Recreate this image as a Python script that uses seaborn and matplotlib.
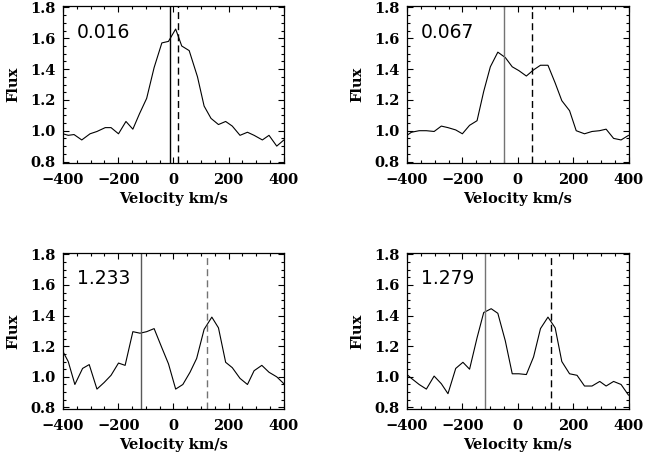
import numpy as np
import pandas as pd
import matplotlib
matplotlib.use("Agg")
import matplotlib.pyplot as plt
import seaborn as sns
from matplotlib.ticker import MultipleLocator

# ---- data ----
phases = ["0.016", "0.067", "1.233", "1.279"]

vel_1 = [-420, -400, -381, -360, -332, -302, -277, -247, -226, -199, -172, -147, -123, -97, -70, -42,
         -18, 8, 30, 57, 87, 111, 136, 163, 189, 213, 241, 268, 292, 322, 346, 374, 400]
flux_1 = [0.99, 0.98, 0.97, 0.975, 0.94, 0.98, 0.995, 1.02, 1.02, 0.98, 1.06, 1.01, 1.11, 1.21, 1.41, 1.57,
          1.58, 1.66, 1.55, 1.52, 1.35, 1.16, 1.08, 1.04, 1.06, 1.03, 0.97, 0.99, 0.97, 0.94, 0.97, 0.90, 0.94]

vel_2 = [-400, -384, -356, -330, -302, -276, -252, -224, -200, -174, -147, -123, -99, -72, -45, -20,
         4, 31, 57, 82, 109, 135, 159, 187, 211, 241, 268, 295, 319, 346, 373, 400]
flux_2 = [0.97, 0.99, 1.0, 1.0, 0.995, 1.03, 1.02, 1.005, 0.98, 1.035, 1.065, 1.255, 1.415, 1.51, 1.475, 1.415,
          1.39, 1.355, 1.395, 1.425, 1.425, 1.31, 1.195, 1.13, 1.0, 0.98, 0.995, 1.0, 1.01, 0.95, 0.94, 0.97]

vel_3 = [-400, -381, -357, -329, -305, -277, -251, -226, -199, -175, -147, -121, -97, -70, -42, -18,
         8, 34, 60, 84, 111, 139, 163, 189, 213, 241, 268, 292, 320, 346, 374, 400]
flux_3 = [1.165, 1.10, 0.95, 1.055, 1.08, 0.92, 0.963, 1.01, 1.09, 1.075, 1.295, 1.285, 1.295, 1.315, 1.19, 1.085,
          0.92, 0.95, 1.03, 1.12, 1.31, 1.39, 1.32, 1.095, 1.06, 0.99, 0.95, 1.04, 1.075, 1.03, 1.0, 0.955]

vel_4 = [-400, -384, -356, -330, -302, -276, -252, -224, -198, -174, -147, -123, -96, -72, -45, -20,
         4, 31, 57, 82, 109, 135, 159, 187, 214, 241, 268, 296, 319, 346, 373, 400]
flux_4 = [1.015, 0.99, 0.95, 0.92, 1.005, 0.955, 0.89, 1.055, 1.095, 1.05, 1.255, 1.42, 1.445, 1.415, 1.235, 1.02,
          1.02, 1.015, 1.13, 1.315, 1.39, 1.32, 1.10, 1.02, 1.01, 0.94, 0.94, 0.97, 0.94, 0.97, 0.95, 0.88]

solid_v = [-12, -48, -117, -117]
dashed_v = [16, 51, 121, 119]

x_ticks = [-400, -200, 0, 200, 400]
x_ticklabels = ["\u2212400", "\u2212200", "0", "200", "400"]
y_ticks = [0.8, 1.0, 1.2, 1.4, 1.6, 1.8]
y_ticklabels = ["0.8", "1.0", "1.2", "1.4", "1.6", "1.8"]

vels = [vel_1, vel_2, vel_3, vel_4]
fluxes = [flux_1, flux_2, flux_3, flux_4]

frames = []
for ph, v, f in zip(phases, vels, fluxes):
    frames.append(pd.DataFrame({"phase": ph, "velocity": v, "flux": f}))
df = pd.concat(frames, ignore_index=True)

# ---- style ----
sns.set_style("ticks")
plt.rcParams["font.family"] = ["DejaVu Serif", "Liberation Serif"]
plt.rcParams["font.weight"] = "bold"
plt.rcParams["text.color"] = "black"
plt.rcParams["axes.labelcolor"] = "black"
plt.rcParams["xtick.color"] = "black"
plt.rcParams["ytick.color"] = "black"

fig = plt.figure(figsize=(6.46, 4.58), dpi=100)
positions = [
    [0.0975, 0.644, 0.342, 0.343],
    [0.630, 0.644, 0.343, 0.343],
    [0.0975, 0.107, 0.342, 0.341],
    [0.630, 0.107, 0.343, 0.341],
]
solid_colors = ["black", "0.45", "0.35", "0.45"]
dashed_colors = ["black", "black", "0.45", "black"]

for i, ph in enumerate(phases):
    ax = fig.add_axes(positions[i])
    sub = df[df["phase"] == ph]
    sns.lineplot(data=sub, x="velocity", y="flux", ax=ax, color="black",
                 linewidth=0.8, sort=False, estimator=None)
    ax.axvline(solid_v[i], color=solid_colors[i], linewidth=1.0)
    ax.axvline(dashed_v[i], color=dashed_colors[i], linewidth=1.0, linestyle=(0, (5, 3)))
    ax.set_xlim(-400, 400)
    ax.set_ylim(0.79, 1.81)
    ax.set_xticks(x_ticks)
    ax.set_xticklabels(x_ticklabels)
    ax.set_yticks(y_ticks)
    ax.set_yticklabels(y_ticklabels)
    ax.xaxis.set_minor_locator(MultipleLocator(50))
    ax.yaxis.set_minor_locator(MultipleLocator(0.05))
    ax.tick_params(which="both", direction="in", top=True, right=True,
                   labelsize=10.5, width=0.8, colors="black")
    ax.tick_params(which="major", length=4)
    ax.tick_params(which="minor", length=2)
    ax.tick_params(axis="x", which="major", pad=7.5)
    ax.tick_params(axis="y", which="major", pad=5.5)
    for lab in ax.get_xticklabels() + ax.get_yticklabels():
        lab.set_fontweight("bold")
    for sp in ax.spines.values():
        sp.set_linewidth(0.9)
        sp.set_color("black")
    ax.set_xlabel("Velocity km/s", fontsize=10.5, fontweight="bold", labelpad=3, color="black")
    ax.set_ylabel("Flux", fontsize=10.5, fontweight="bold", labelpad=6.5, color="black")
    ax.text(0.063, 0.834, ph, transform=ax.transAxes, fontsize=13.5,
            family=["DejaVu Sans"], fontweight="normal", color="black",
            ha="left", va="center")

fig.savefig("out.png", dpi=100)
